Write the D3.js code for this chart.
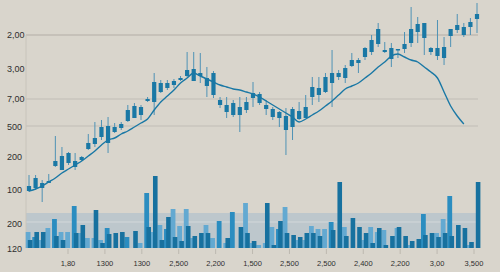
<!DOCTYPE html>
<html>
<head>
<meta charset="utf-8">
<script src="https://cdn.jsdelivr.net/npm/d3@7"></script>
<style>
  html, body { margin: 0; padding: 0; background: #d9d5cc; }
  svg { display: block; }
  .tick-label { font-family: "Liberation Sans", Arial, sans-serif; fill: #2f2f2f; }
</style>
</head>
<body>
<div id="chart"></div>
<script>
// candle data (price units)
const highs  = [80,80,75,81,119,108,103,102,99,121,133,135,138,132,133,150,152,150,158,182,175,175,176,179,203,203,202,188,184,158,158,155,158,158,173,163,155,148,144,147,148,153,160,178,178,182,205,185,190,202,197,208,220,232,213,212,206,223,248,238,232,208,235,218,226,241,232,237,252];
const lows   = [63,65,53,72,88,85,90,85,94,105,108,115,102,122,125,133,137,135,153,140,162,165,167,174,178,174,172,158,157,147,137,138,123,142,148,150,140,135,128,100,115,135,137,150,153,162,148,175,172,188,182,195,200,208,202,188,197,202,208,212,200,200,195,190,208,222,218,220,222];
const opens  = [64,67,67,72,89,85,92,88,95,106,111,118,112,123,127,134,137,140,154,153,163,167,170,175,179,174,179,169,160,150,143,140,140,145,157,152,146,138,137,125,128,136,137,158,160,163,172,178,177,189,192,198,203,211,203,196,205,206,212,223,217,203,199,197,219,225,220,228,236];
const closes = [69,77,72,74,94,99,102,94,98,112,117,128,129,128,131,145,149,148,156,173,172,172,174,177,185,186,182,177,182,155,150,152,148,153,162,161,150,146,143,139,146,144,148,168,167,178,182,182,187,195,195,207,215,226,205,207,206,211,226,231,232,207,207,208,226,230,228,233,241];

// moving average line
const maLine = [64,66,69,73,77,82,86,90,94,99,104,110,115,117,121,124,128,132,136,145,153,159,165,172,177,182,179,176,173,170,168,166,165,163,161,158,154,150,146,142,138,133,136,140,144,149,154,160,166,169,172,177,182,188,193,199,201,198,195,193,188,183,177,163,149,139,131];

// volume: back series (light / medium) and front series (dark)
const volBack  = [16,11,8,20,29,16,16,42,15,10,10,8,20,0,0,11,0,5,55,16,23,19,39,22,39,10,0,23,10,27,5,36,0,45,5,3,5,21,19,41,0,8,8,22,19,19,26,0,21,0,0,8,21,16,18,0,20,0,3,0,34,0,15,29,52,0,0,3,0];
const backType = ["l","m","l","l","m","l","l","m","l","l","l","l","m","l","l","m","l","l","m","l","l","m","l","l","l","l","l","l","l","m","l","m","l","l","l","l","l","l","m","l","l","l","l","l","l","l","m","l","l","l","l","l","l","l","l","l","l","l","l","l","m","l","l","l","m","l","l","l","l"];
const volFront = [8,16,16,0,12,8,0,15,23,0,38,5,14,15,16,0,17,0,21,72,8,31,11,7,22,12,15,15,0,0,10,0,21,15,7,0,45,3,27,15,13,11,15,15,12,0,18,66,12,30,21,15,5,20,3,12,21,12,7,9,13,15,11,15,12,23,20,6,66];

// axis labels
const priceTickValues = [220,186,156,128,98,65];
const priceTickLabels = ["2,00","3,00","7,00","500","200","100"];
const priceGridValues = [220,156,129];
const volTickValues = [25,0];
const volTickLabels = ["200","120"];
const xTickLabels = ["1,80","1300","1300","2,500","2,200","1,500","2,500","2,500","2,400","2,200","3,00","3,500"];

const W = 500, H = 272;
const plotLeft = 26, plotRight = 478;

const svg = d3.select("#chart").append("svg")
    .attr("width", W)
    .attr("height", H);

const x = d3.scaleLinear().domain([0, highs.length - 1]).range([29, 477]);
const yPrice = d3.scaleLinear().domain([0, 255]).range([255, 0]);
const yVol = d3.scaleLinear().domain([0, 80]).range([248, 168]);
const xLab = d3.scalePoint().domain(d3.range(xTickLabels.length)).range([68, 474]);

const colDark = "#17719f";
const colMed = "#2b8dc0";
const colLight = "#63a9d1";
const colCandle = "#1a78a5";

// volume band
svg.append("rect")
    .attr("x", plotLeft)
    .attr("y", yVol(35))
    .attr("width", plotRight - plotLeft)
    .attr("height", yVol(0) - yVol(35))
    .attr("fill", "#bdc7cc");

svg.append("line")
    .attr("x1", plotLeft).attr("x2", plotRight)
    .attr("y1", yVol(26)).attr("y2", yVol(26))
    .attr("stroke", "#d3d8da").attr("stroke-width", 1);

// grid lines for price panel
svg.append("g").selectAll("line")
    .data(priceGridValues)
    .join("line")
    .attr("x1", plotLeft).attr("x2", plotRight)
    .attr("y1", d => yPrice(d)).attr("y2", d => yPrice(d))
    .attr("stroke", (d, i) => i === 0 ? "#b3aea5" : "#c2beb5")
    .attr("stroke-width", 1.2);

svg.append("line")
    .attr("x1", plotLeft).attr("x2", plotLeft)
    .attr("y1", yPrice(220)).attr("y2", yVol(0))
    .attr("stroke", "#c8c4bb").attr("stroke-width", 1);

// volume bars
const volGroup = svg.append("g");
volGroup.selectAll(".vback")
    .data(volBack)
    .join("rect")
    .attr("class", "vback")
    .attr("x", (d, i) => x(i) - 3.3)
    .attr("width", 4.8)
    .attr("y", d => yVol(d))
    .attr("height", d => yVol(0) - yVol(d))
    .attr("fill", (d, i) => backType[i] === "m" ? colMed : colLight);

volGroup.selectAll(".vfront")
    .data(volFront)
    .join("rect")
    .attr("class", "vfront")
    .attr("x", (d, i) => x(i) - 1.2)
    .attr("width", 4.6)
    .attr("y", d => yVol(d))
    .attr("height", d => yVol(0) - yVol(d))
    .attr("fill", colDark);

// candles
const candles = svg.append("g")
    .selectAll("g")
    .data(highs.map((h, i) => ({i, h, l: lows[i], o: opens[i], c: closes[i]})))
    .join("g");

candles.append("line")
    .attr("x1", d => x(d.i)).attr("x2", d => x(d.i))
    .attr("y1", d => yPrice(d.h)).attr("y2", d => yPrice(d.l))
    .attr("stroke", "#4f92b5")
    .attr("stroke-width", 1);

candles.append("rect")
    .attr("x", d => x(d.i) - 2.1)
    .attr("width", 4.2)
    .attr("y", d => yPrice(Math.max(d.o, d.c)))
    .attr("height", d => Math.max(1.5, Math.abs(yPrice(d.o) - yPrice(d.c))))
    .attr("fill", colCandle);

// moving average
const line = d3.line()
    .x((d, i) => x(i))
    .y(d => yPrice(d))
    .curve(d3.curveMonotoneX);

svg.append("path")
    .datum(maLine)
    .attr("d", line)
    .attr("fill", "none")
    .attr("stroke", colCandle)
    .attr("stroke-width", 1.4);

// y labels
svg.append("g").selectAll("text")
    .data(priceTickValues)
    .join("text")
    .attr("class", "tick-label")
    .attr("x", 7)
    .attr("y", d => yPrice(d))
    .attr("dy", "0.35em")
    .attr("font-size", 9)
    .text((d, i) => priceTickLabels[i]);

svg.append("g").selectAll("text")
    .data(volTickValues)
    .join("text")
    .attr("class", "tick-label")
    .attr("x", 7)
    .attr("y", d => yVol(d) + 0.5)
    .attr("dy", "0.35em")
    .attr("font-size", 9)
    .text((d, i) => volTickLabels[i]);

// x axis ticks and labels
const xAxis = svg.append("g");
xAxis.selectAll("line")
    .data(xTickLabels)
    .join("line")
    .attr("x1", (d, i) => xLab(i)).attr("x2", (d, i) => xLab(i))
    .attr("y1", 249).attr("y2", 254)
    .attr("stroke", "#bdb9b0");

xAxis.selectAll("text")
    .data(xTickLabels)
    .join("text")
    .attr("class", "tick-label")
    .attr("x", (d, i) => xLab(i))
    .attr("y", 266)
    .attr("text-anchor", "middle")
    .attr("font-size", 7.5)
    .text(d => d);
</script>
</body>
</html>
